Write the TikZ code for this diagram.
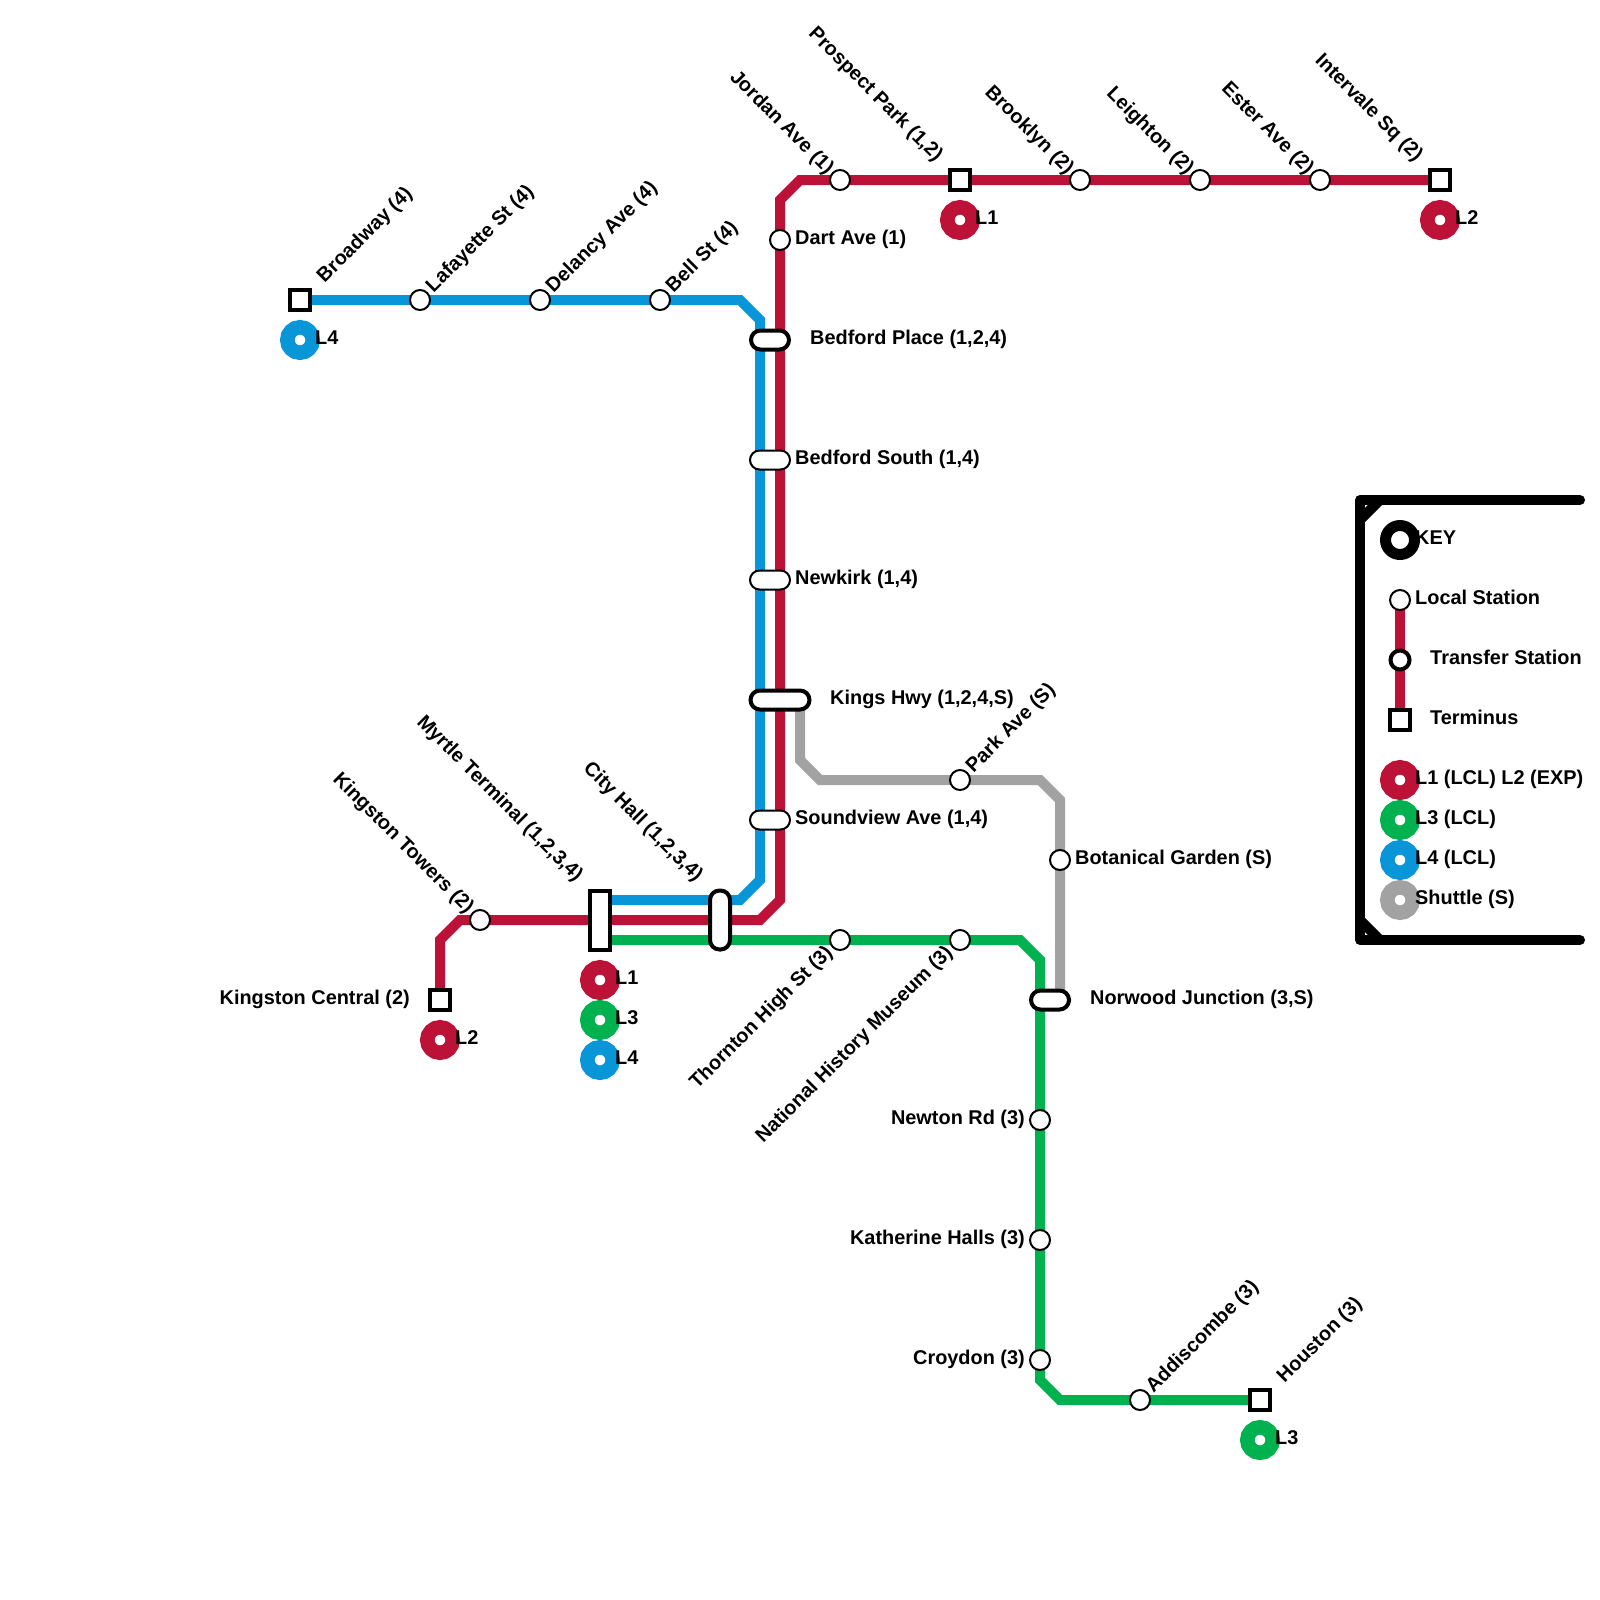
\documentclass[tikz,border=0pt]{standalone}
\usepackage{fontspec}
\setmainfont{Liberation Sans}
\usetikzlibrary{backgrounds}
\definecolor{redline}{RGB}{188,18,56}
\definecolor{blueline}{RGB}{9,150,217}
\definecolor{greenline}{RGB}{0,177,79}
\definecolor{greyline}{RGB}{162,162,162}
\tikzset{
    line/.style={line width=10pt,miter limit=10},
    stn/.style={circle,draw,fill=white,line width=2pt,inner sep=0pt,minimum size=20pt},
    xfer/.style={circle,draw,fill=white,line width=4pt,inner sep=0pt,minimum size=19pt},
    term/.style={rectangle,draw,fill=white,line width=4pt,inner sep=0pt,minimum size=20pt},
    wide/.style={rectangle,rounded corners=9.5pt,draw,fill=white,line width=2pt,inner sep=0pt,minimum width=40pt,minimum height=19pt},
    widex/.style={rectangle,rounded corners=9.5pt,draw,fill=white,line width=4pt,inner sep=0pt,minimum width=38pt,minimum height=19pt},
    roundel/.style={circle,draw=#1,fill=white,line width=14.5pt,inner sep=0pt,minimum size=25.5pt},
    txt/.style={inner sep=0pt,font=\fontsize{19.9}{22}\selectfont\bfseries,text height=14pt,text depth=4pt},
    txtl/.style={txt,anchor=west},
    txtr/.style={txt,anchor=east},
    txtup/.style={txt,anchor=west,rotate=45},
    txtdn/.style={txt,anchor=east,rotate=45},
    txtne/.style={txt,anchor=east,rotate=-45},
}
\begin{document}
\begin{tikzpicture}[x=1pt,y=-1pt]
    \useasboundingbox (0,0) rectangle (1600,1600);
    \node[term] (broadway) at (300,300) {};
    \node[stn] (lafayette) at (420,300) {};
    \node[stn] (delancy) at (540,300) {};
    \node[stn] (bell) at (660,300) {};
    \node[stn] (jordan) at (840,180) {};
    \node[term] (prospect) at (960,180) {};
    \node[stn] (brooklyn) at (1080,180) {};
    \node[stn] (leighton) at (1200,180) {};
    \node[stn] (ester) at (1320,180) {};
    \node[term] (intervale) at (1440,180) {};
    \node[stn] (dart) at (780,240) {};
    \node[widex] (bedfordplace) at (770,340) {};
    \node[wide] (bedfordsouth) at (770,460) {};
    \node[wide] (newkirk) at (770,580) {};
    \node[widex,minimum width=59pt] (kings) at (780,700) {};
    \node[wide] (soundview) at (770,820) {};
    \node[stn] (park) at (960,780) {};
    \node[stn] (botanical) at (1060,860) {};
    \node[widex] (norwood) at (1050,1000) {};
    \node[stn] (kingstontowers) at (480,920) {};
    \node[term] (kingstoncentral) at (440,1000) {};
    \node[term,minimum width=20pt,minimum height=59pt] (myrtle) at (600,920) {};
    \node[widex,minimum width=20pt,minimum height=59pt] (cityhall) at (720,920) {};
    \node[stn] (thornton) at (840,940) {};
    \node[stn] (museum) at (960,940) {};
    \node[stn] (newton) at (1040,1120) {};
    \node[stn] (katherine) at (1040,1240) {};
    \node[stn] (croydon) at (1040,1360) {};
    \node[stn] (addiscombe) at (1140,1400) {};
    \node[term] (houston) at (1260,1400) {};
    \node[stn] (keylocal) at (1400,600) {};
    \node[xfer] (keyxfer) at (1400,660) {};
    \node[term] (keyterm) at (1400,720) {};

    \coordinate (blueA) at (740,300);
    \coordinate (blueB) at (760,320);
    \coordinate (blueC) at (760,880);
    \coordinate (blueD) at (740,900);
    \coordinate (blueE) at (600,900);
    \coordinate (redA) at (800,180);
    \coordinate (redB) at (780,200);
    \coordinate (redC) at (780,900);
    \coordinate (redD) at (760,920);
    \coordinate (redE) at (460,920);
    \coordinate (redF) at (440,940);
    \coordinate (greenA) at (600,940);
    \coordinate (greenB) at (1020,940);
    \coordinate (greenC) at (1040,960);
    \coordinate (greenD) at (1040,1380);
    \coordinate (greenE) at (1060,1400);
    \coordinate (greyA) at (800,700);
    \coordinate (greyB) at (800,760);
    \coordinate (greyC) at (820,780);
    \coordinate (greyD) at (1040,780);
    \coordinate (greyE) at (1060,800);
    \coordinate (greyF) at (1060,1000);
    \coordinate (keyA) at (1580,500);
    \coordinate (keyB) at (1360,500);
    \coordinate (keyC) at (1360,940);
    \coordinate (keyD) at (1580,940);
    \coordinate (keyE) at (1380,500);
    \coordinate (keyF) at (1360,520);
    \coordinate (keyG) at (1360,920);
    \coordinate (keyH) at (1380,940);

    \begin{scope}[on background layer]
        \draw[line,blueline] (broadway.center) -- (lafayette.center) -- (delancy.center) -- (bell.center) -- (blueA) -- (blueB) -- (blueC) -- (blueD) -- (blueE);
        \draw[line,redline] (intervale.center) -- (ester.center) -- (leighton.center) -- (brooklyn.center) -- (prospect.center) -- (jordan.center) -- (redA) -- (redB) -- (dart.center) -- (redC) -- (redD) -- (kingstontowers.center) -- (redE) -- (redF) -- (kingstoncentral.center);
        \draw[line,greenline] (greenA) -- (thornton.center) -- (museum.center) -- (greenB) -- (greenC) -- (newton.center) -- (katherine.center) -- (croydon.center) -- (greenD) -- (greenE) -- (addiscombe.center) -- (houston.center);
        \draw[line,greyline] (greyA) -- (greyB) -- (greyC) -- (park.center) -- (greyD) -- (greyE) -- (botanical.center) -- (greyF);
        \draw[line,redline] (keylocal.center) -- (keyxfer.center) -- (keyterm.center);
    \end{scope}

    \draw[line,line cap=round,line join=round] (keyA) -- (keyB) -- (keyC) -- (keyD);
    \draw[line] (keyE) -- (keyF);
    \draw[line] (keyG) -- (keyH);

    \node[roundel=blueline] (rbroadway) at (300,340) {};
    \node[roundel=redline] (rprospect) at (960,220) {};
    \node[roundel=redline] (rintervale) at (1440,220) {};
    \node[roundel=redline] (rkingston) at (440,1040) {};
    \node[roundel=redline] (rmyrtleA) at (600,980) {};
    \node[roundel=greenline] (rmyrtleB) at (600,1020) {};
    \node[roundel=blueline] (rmyrtleC) at (600,1060) {};
    \node[roundel=greenline] (rhouston) at (1260,1440) {};
    \node[circle,draw,fill=white,line width=11pt,inner sep=0pt,minimum size=29pt] (rkey) at (1400,540) {};
    \node[roundel=redline] (rkeyA) at (1400,780) {};
    \node[roundel=greenline] (rkeyB) at (1400,820) {};
    \node[roundel=blueline] (rkeyC) at (1400,860) {};
    \node[roundel=greyline] (rkeyD) at (1400,900) {};

    \node[txtl] (tbroadway) at (315,339.5) {L4};
    \node[txtl] (tprospect) at (975,219.5) {L1};
    \node[txtl] (tintervale) at (1455,219.5) {L2};
    \node[txtl] (tkingston) at (455,1039.5) {L2};
    \node[txtl] (tmyrtleA) at (615,979.5) {L1};
    \node[txtl] (tmyrtleB) at (615,1019.5) {L3};
    \node[txtl] (tmyrtleC) at (615,1059.5) {L4};
    \node[txtl] (thouston) at (1275,1439.5) {L3};
    \node[txtl] (tkey) at (1415,539.5) {KEY};
    \node[txtl] (tkeylocal) at (1415,599.5) {Local Station};
    \node[txtl] (tkeyxfer) at (1430,659.5) {Transfer Station};
    \node[txtl] (tkeyterm) at (1430,719.5) {Terminus};
    \node[txtl] (tkeyA) at (1415,779.5) {L1 (LCL) L2 (EXP)};
    \node[txtl] (tkeyB) at (1415,819.5) {L3 (LCL)};
    \node[txtl] (tkeyC) at (1415,859.5) {L4 (LCL)};
    \node[txtl] (tkeyD) at (1415,899.5) {Shuttle (S)};

    \node[txtl] (ldart) at (795,239.5) {Dart Ave (1)};
    \node[txtl] (lbedfordplace) at (810,339.5) {Bedford Place (1,2,4)};
    \node[txtl] (lbedfordsouth) at (795,459.5) {Bedford South (1,4)};
    \node[txtl] (lnewkirk) at (795,579.5) {Newkirk (1,4)};
    \node[txtl] (lkings) at (830,699.5) {Kings Hwy (1,2,4,S)};
    \node[txtl] (lsoundview) at (795,819.5) {Soundview Ave (1,4)};
    \node[txtl] (lbotanical) at (1075,859.5) {Botanical Garden (S)};
    \node[txtl] (lnorwood) at (1090,999.5) {Norwood Junction (3,S)};
    \node[txtr] (lkingstoncentral) at (410,999.5) {Kingston Central (2)};
    \node[txtr] (lnewton) at (1025,1119.5) {Newton Rd (3)};
    \node[txtr] (lkatherine) at (1025,1239.5) {Katherine Halls (3)};
    \node[txtr] (lcroydon) at (1025,1359.5) {Croydon (3)};

    \node[txtup] (lbroadway) at (321,280) {Broadway (4)};
    \node[txtup] (llafayette) at (430,290) {Lafayette St (4)};
    \node[txtup] (ldelancy) at (550,290) {Delancy Ave (4)};
    \node[txtup] (lbell) at (670,290) {Bell St (4)};
    \node[txtup] (lpark) at (970,770) {Park Ave (S)};
    \node[txtup] (laddiscombe) at (1150,1390) {Addiscombe (3)};
    \node[txtup] (lhouston) at (1281,1380) {Houston (3)};
    \node[txtdn] (lthornton) at (830,950) {Thornton High St (3)};
    \node[txtdn] (lmuseum) at (950,950) {National History Museum (3)};
    \node[txtne] (ljordan) at (830,172) {Jordan Ave (1)};
    \node[txtne] (lprospect) at (939,159) {Prospect Park (1,2)};
    \node[txtne] (lbrooklyn) at (1070,172) {Brooklyn (2)};
    \node[txtne] (lleighton) at (1190,172) {Leighton (2)};
    \node[txtne] (lester) at (1310,172) {Ester Ave (2)};
    \node[txtne] (lintervale) at (1419,159) {Intervale Sq (2)};
    \node[txtne] (lkingstontowers) at (470,911) {Kingston Towers (2)};
    \node[txtne] (lmyrtle) at (579,879) {Myrtle Terminal (1,2,3,4)};
    \node[txtne] (lcityhall) at (699,879) {City Hall (1,2,3,4)};
\end{tikzpicture}
\end{document}
